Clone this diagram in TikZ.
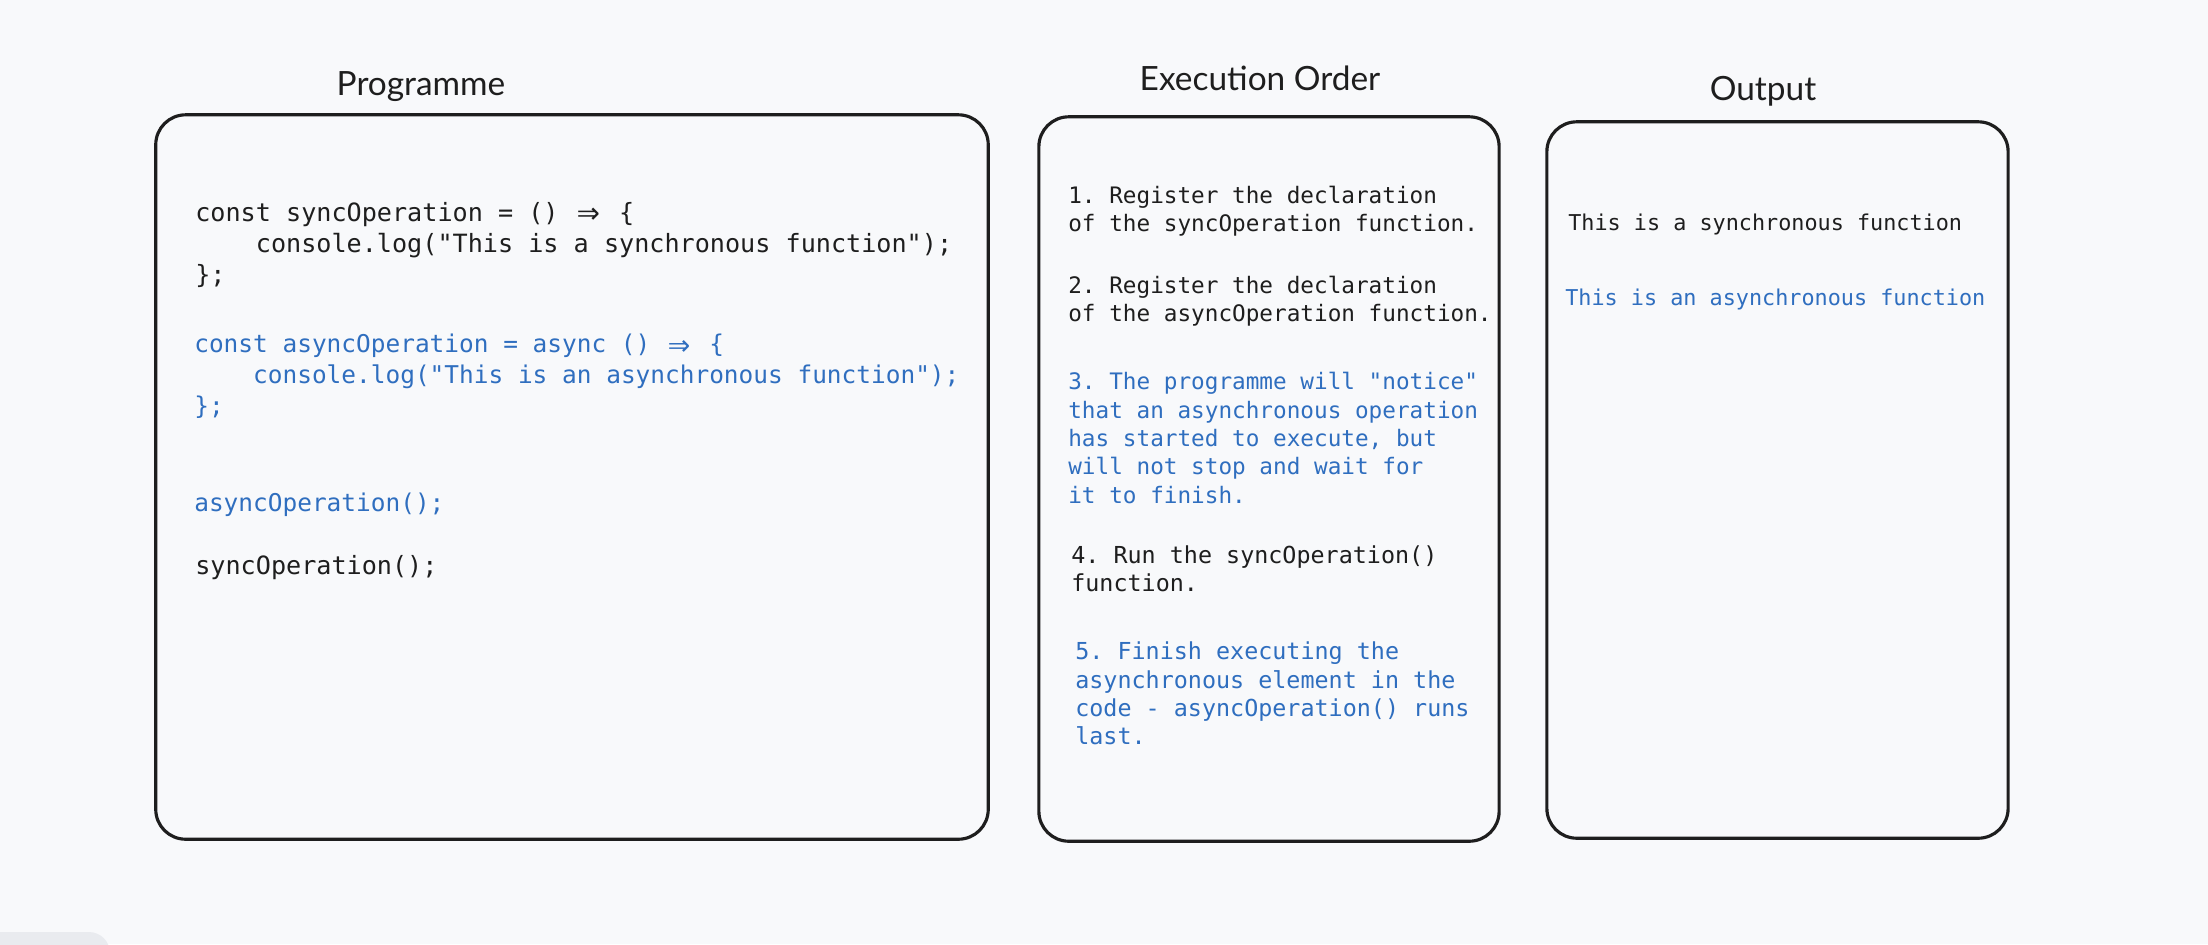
\documentclass[tikz,border=0pt]{standalone}
\usepackage{fontspec}
\setmainfont{Lato}
\setmonofont{DejaVu Sans Mono}

\definecolor{inkblack}{HTML}{1E1E1E}
\definecolor{inkblue}{HTML}{2F6EBF}
\definecolor{paper}{HTML}{F8F9FB}
\definecolor{tabgray}{HTML}{E9EBEF}

\newcommand{\ind}{\hphantom{0000}}
\newcommand{\arrowlig}{\hbox to 1.204em{\hss\raisebox{-0.15em}{\scalebox{1.5}{⇒}}\hss}}

\tikzset{every picture/.style={line width=0.75pt}}
\tikzset{
  panel/.style={draw=inkblack, line width=0.9pt, rounded corners=8.5pt, inner sep=0pt},
  titletxt/.style={font=\fontsize{9.5}{11}\selectfont, text=inkblack, anchor=base, inner sep=0pt},
  codetxt/.style={font=\ttfamily\fontsize{7.15}{8.8}\selectfont, align=left, anchor=base west, inner sep=0pt},
  bluecode/.style={codetxt, text=inkblue, font=\ttfamily\fontsize{6.95}{8.8}\selectfont},
  steptxt/.style={font=\ttfamily\fontsize{6.45}{8.05}\selectfont, align=left, anchor=base west, inner sep=0pt},
  bigstep/.style={steptxt, font=\ttfamily\fontsize{6.65}{8.05}\selectfont},
  outtxt/.style={font=\ttfamily\fontsize{6.2}{7.5}\selectfont, anchor=base west, inner sep=0pt}
}

\begin{document}
\begin{tikzpicture}[x=0.01cm, y=-0.01cm]
        \fill[paper] (0,0) rectangle (2208,944);
        \useasboundingbox (0,0) rectangle (2208,944);
        \fill[tabgray, rounded corners=6pt] (-20,932) rectangle (110,970);

        % titles
        \node[titletxt] (progtitle) at (421,95) {Programme};
        \node[titletxt] (ordertitle) at (1260,90) {Execution Order};
        \node[titletxt] (outtitle) at (1763,100) {Output};

        % boxes
        \node[panel, minimum width=8.32cm, minimum height=7.24cm] (progbox) at (572,477) {};
        \node[panel, minimum width=4.60cm, minimum height=7.24cm] (orderbox) at (1269,479) {};
        \node[panel, minimum width=4.61cm, minimum height=7.16cm] (outbox) at (1777.5,480) {};

        % programme (base = last line)
        \node[codetxt, text=inkblack] (syncdef) at (194,283) {const syncOperation = () \arrowlig{} \{\\ \ind console.log("This is a synchronous function");\\ \};};
        \node[bluecode] (asyncdef) at (193,414.5) {const asyncOperation = async () \arrowlig{} \{\\ \ind console.log("This is an asynchronous function");\\ \};};
        \node[bluecode] (asynccall) at (193,511.5) {asyncOperation();};
        \node[codetxt, text=inkblack] (synccall) at (194,574.5) {syncOperation();};

        % execution order (base = last line)
        \node[steptxt, text=inkblack] (step1) at (1067,231.3) {1. Register the declaration\\of the syncOperation function.};
        \node[steptxt, text=inkblack] (step2) at (1067,321.3) {2. Register the declaration\\of the asyncOperation function.};
        \node[steptxt, text=inkblue] (step3) at (1067,503.2) {3. The programme will "notice"\\that an asynchronous operation\\has started to execute, but\\will not stop and wait for\\it to finish.};
        \node[bigstep, text=inkblack] (step4) at (1070,591.3) {4. Run the syncOperation()\\function.};
        \node[bigstep, text=inkblue] (step5) at (1074,744.9) {5. Finish executing the\\asynchronous element in the\\code - asyncOperation() runs\\last.};

        % output
        \node[outtxt, text=inkblack] (syncout) at (1567,230.5) {This is a synchronous function};
        \node[outtxt, text=inkblue] (asyncout) at (1564,305.5) {This is an asynchronous function};
    \end{tikzpicture}
\end{document}
